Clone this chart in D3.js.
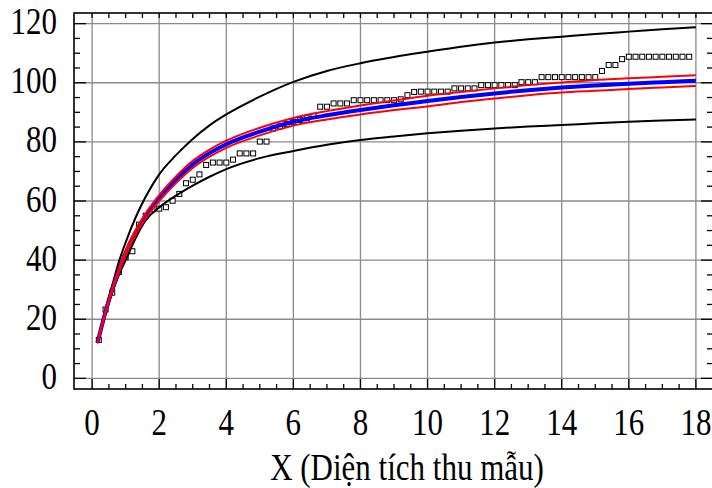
<!DOCTYPE html>
<html>
<head>
<meta charset="utf-8">
<script src="https://cdn.jsdelivr.net/npm/d3@7/dist/d3.min.js"></script>
<style>
	html, body { margin: 0; padding: 0; background: #fff; }
	svg { display: block; }
	text { font-family: "Liberation Serif", "Times New Roman", serif; fill: #000; }
</style>
</head>
<body>
<svg id="chart" width="712" height="488"></svg>
<script>
// x positions where the fitted curves were read
var curveX = [0.16, 0.4, 0.6, 0.8, 1, 1.3, 1.6, 2, 2.5, 3, 3.5, 4, 5, 6, 7, 8, 9, 10, 11, 12, 13, 14, 15, 16, 17, 18];

var fitted = [12, 22.5, 30, 36.5, 42.5, 49.5, 55, 61, 67.2, 72.4, 76.2, 79.2, 83.5, 86.8, 89, 90.8, 92.4, 93.8, 95.2, 96.4, 97.5, 98.4, 99.1, 99.7, 100.2, 100.7];
var confUpper = [12.2, 22.9, 30.5, 37.1, 43.2, 50.3, 55.9, 62, 68.3, 73.6, 77.4, 80.4, 84.8, 88.1, 90.4, 92.3, 94, 95.6, 96.9, 98.1, 99.2, 100.1, 100.9, 101.5, 102, 102.5];
var confLower = [11.8, 22.1, 29.5, 35.9, 41.8, 48.7, 54.1, 60, 66.1, 71.2, 75, 78, 82.2, 85.5, 87.6, 89.3, 90.8, 92, 93.5, 94.7, 95.8, 96.7, 97.3, 97.9, 98.4, 98.9];
var predUpper = [12, 23.5, 31.5, 39.5, 46, 54.5, 61.5, 69, 75.5, 81, 85.6, 89.3, 95.3, 100.3, 104, 106.6, 108.7, 110.5, 112.2, 113.6, 114.7, 115.6, 116.5, 117.3, 118.1, 118.8];
var predLower = [12, 22, 29, 35, 40, 47.5, 53.5, 57.8, 61.8, 65.2, 68.2, 70.8, 74.5, 76.9, 79, 80.6, 81.8, 82.9, 83.8, 84.5, 85.2, 85.7, 86.3, 86.8, 87.2, 87.6];

// observed points (area, species)
var obsX = [0.2, 0.4, 0.6, 0.8, 1.0, 1.2, 1.4, 1.6, 1.8, 2.0, 2.2, 2.4, 2.6, 2.8, 3.0, 3.2, 3.4, 3.6, 3.8, 4.0,
	4.2, 4.4, 4.6, 4.8, 5.0, 5.2, 5.4, 5.6, 5.8, 6.0, 6.2, 6.4, 6.6, 6.8, 7.0, 7.2, 7.4, 7.6, 7.8, 8.0,
	8.2, 8.4, 8.6, 8.8, 9.0, 9.2, 9.4, 9.6, 9.8, 10.0, 10.2, 10.4, 10.6, 10.8, 11.0, 11.2, 11.4, 11.6, 11.8, 12.0,
	12.2, 12.4, 12.6, 12.8, 13.0, 13.2, 13.4, 13.6, 13.8, 14.0, 14.2, 14.4, 14.6, 14.8, 15.0, 15.2, 15.4, 15.6, 15.8, 16.0,
	16.2, 16.4, 16.6, 16.8, 17.0, 17.2, 17.4, 17.6, 17.8];
var obsY = [13, 23.3, 29, 36, 41, 43, 52, 55, 57.2, 57.4, 57.9, 60.1, 62.4, 66, 67.2, 69, 72.2, 73, 73, 73,
	74, 76.1, 76.1, 76.1, 80.1, 80.1, 84.5, 85.2, 86, 86.8, 87.4, 88, 88.8, 91.9, 91.9, 93, 93, 93, 94.1, 94.1,
	94.1, 94.1, 94.1, 94.1, 94.1, 94.4, 95.8, 96.9, 97, 97, 97, 97, 97, 98.1, 98.1, 98.1, 98.1, 99.2, 99.2, 99.2,
	99.2, 99.2, 99.2, 100.2, 100.2, 100.2, 101.9, 101.9, 101.9, 101.9, 101.9, 101.9, 101.9, 101.9, 101.9, 104, 106, 106, 108, 108.8,
	108.8, 108.8, 108.8, 108.8, 108.8, 108.8, 108.8, 108.8, 108.8];

var xTicks = [0, 2, 4, 6, 8, 10, 12, 14, 16, 18];
var yTicks = [0, 20, 40, 60, 80, 100, 120];
var xLabel = "X (Diện tích thu mẫu)";

var LEFT = 74, RIGHT = 713, TOP = 13, BOTTOM = 389,
	FONT = 31, STRETCH = 1.2;

var svg = d3.select("#chart");

var x = d3.scaleLinear().domain([-0.54, 18.51]).range([LEFT, RIGHT]);
var y = d3.scaleLinear().domain([-3.6, 123.6]).range([BOTTOM, TOP]);

var xMinor = d3.range(0, 18.01, 0.5),
	yMinor = d3.range(0, 120.1, 5);

// grid
var grid = svg.append("g").attr("stroke", "#8a8a8a").attr("stroke-width", 1.3);
grid.selectAll(".gx").data(xTicks).enter().append("line")
	.attr("x1", function(d) { return x(d); }).attr("x2", function(d) { return x(d); })
	.attr("y1", TOP).attr("y2", BOTTOM);
grid.selectAll(".gy").data(yTicks).enter().append("line")
	.attr("y1", function(d) { return y(d); }).attr("y2", function(d) { return y(d); })
	.attr("x1", LEFT).attr("x2", RIGHT);

// observed squares (drawn under the fitted lines)
var pts = d3.zip(obsX, obsY);
svg.append("g").selectAll("rect").data(pts).enter().append("rect")
	.attr("x", function(d) { return x(d[0]) - 2.5; })
	.attr("y", function(d) { return y(d[1]) - 2.5; })
	.attr("width", 5).attr("height", 5)
	.attr("fill", "#fff").attr("stroke", "#000").attr("stroke-width", 1);

var line = d3.line()
	.x(function(d) { return x(d[0]); })
	.y(function(d) { return y(d[1]); })
	.curve(d3.curveMonotoneX);

function drawCurve(values, color, width) {
	svg.append("path")
		.attr("d", line(d3.zip(curveX, values)))
		.attr("fill", "none")
		.attr("stroke", color)
		.attr("stroke-width", width)
		.attr("stroke-linejoin", "round");
}

drawCurve(predUpper, "#000", 2);
drawCurve(predLower, "#000", 2);
drawCurve(fitted, "#0000ff", 4);
drawCurve(confUpper, "#ff0000", 2);
drawCurve(confLower, "#ff0000", 2);

// axes: ticks point inward on every side
var axes = svg.append("g").attr("stroke", "#000");

axes.selectAll(".lt").data(yMinor).enter().append("line")
	.attr("x1", LEFT).attr("x2", function(d) { return LEFT + (d % 20 ? 6 : 12); })
	.attr("y1", function(d) { return y(d); }).attr("y2", function(d) { return y(d); })
	.attr("stroke-width", 1.3);
axes.selectAll(".rt").data(yMinor).enter().append("line")
	.attr("x1", RIGHT).attr("x2", function(d) { return RIGHT - (d % 20 ? 6 : 12); })
	.attr("y1", function(d) { return y(d); }).attr("y2", function(d) { return y(d); })
	.attr("stroke-width", 1.3);
axes.selectAll(".bt").data(xMinor).enter().append("line")
	.attr("y1", BOTTOM).attr("y2", function(d) { return BOTTOM - (d % 2 ? 5 : 10); })
	.attr("x1", function(d) { return x(d); }).attr("x2", function(d) { return x(d); })
	.attr("stroke-width", 1.3);
axes.selectAll(".tt").data(xMinor).enter().append("line")
	.attr("y1", TOP).attr("y2", TOP + 5)
	.attr("x1", function(d) { return x(d); }).attr("x2", function(d) { return x(d); })
	.attr("stroke-width", 1.3);

axes.append("rect")
	.attr("x", LEFT).attr("y", TOP)
	.attr("width", RIGHT - LEFT).attr("height", BOTTOM - TOP)
	.attr("fill", "none").attr("stroke-width", 1.6);

// labels
function label(txt, px, py, anchor) {
	svg.append("text")
		.attr("transform", "translate(" + px + "," + py + ") scale(1," + STRETCH + ")")
		.attr("text-anchor", anchor)
		.attr("font-size", FONT)
		.text(txt);
}

yTicks.forEach(function(d) { label(d, 57, y(d) + 10.5, "end"); });
xTicks.forEach(function(d) { label(d, x(d), 435, "middle"); });
label(xLabel, 407, 480, "middle");
</script>
</body>
</html>
